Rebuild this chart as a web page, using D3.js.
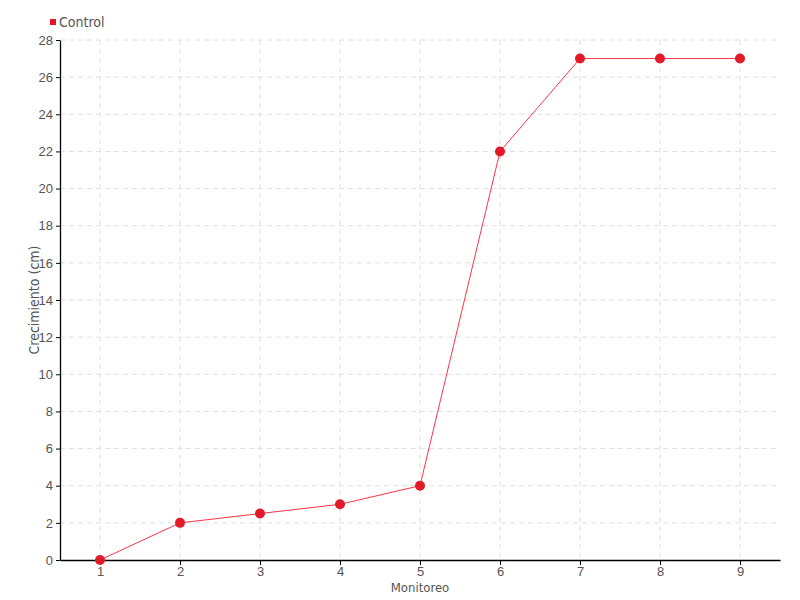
<!DOCTYPE html>
<html>
<head>
    <meta charset="utf-8">
    <title>Crecimiento - Control</title>
    <script src="https://d3js.org/d3.v7.min.js"></script>
    <style>
        body { margin: 0; background: #fff; font-family: 'DejaVu Sans Condensed', 'Liberation Sans Narrow', sans-serif; }
        .tick text { fill: #555; font-size: 13px; }
        .grid line { stroke: #e0e0e0; stroke-dasharray: 5,4; }
    </style>
</head>
<body>
<div id="chart"></div>
<script>
    // data
    const monitoreo = [1, 2, 3, 4, 5, 6, 7, 8, 9]
    const control = [0, 2, 2.5, 3, 4, 22, 27, 27, 27]
    const yTicks = [0, 2, 4, 6, 8, 10, 12, 14, 16, 18, 20, 22, 24, 26, 28]

    const width = 800, height = 600
    const margin = { top: 40, right: 20, bottom: 40, left: 60 }

    const svg = d3.select("#chart").append("svg")
        .attr("width", width)
        .attr("height", height)

    const x = d3.scaleLinear()
        .domain([0.5, 9.5])
        .range([margin.left, width - margin.right])

    const y = d3.scaleLinear()
        .domain([0, 28])
        .range([height - margin.bottom, margin.top])

    // grid
    svg.append("g").attr("class", "grid")
        .selectAll("line.h")
        .data(yTicks.slice(1))
        .enter().append("line")
        .attr("x1", margin.left).attr("x2", width - margin.right)
        .attr("y1", d => y(d)).attr("y2", d => y(d))

    svg.append("g").attr("class", "grid")
        .selectAll("line.v")
        .data(monitoreo)
        .enter().append("line")
        .attr("x1", d => x(d)).attr("x2", d => x(d))
        .attr("y1", margin.top).attr("y2", height - margin.bottom)

    // axes
    svg.append("g")
        .attr("transform", `translate(0,${height - margin.bottom})`)
        .call(d3.axisBottom(x).tickValues(monitoreo).tickSize(5).tickSizeOuter(0).tickPadding(2))
    svg.append("g")
        .attr("transform", `translate(${margin.left},0)`)
        .call(d3.axisLeft(y).tickValues(yTicks).tickSize(4).tickSizeOuter(0).tickPadding(3))

    svg.selectAll(".domain").attr("stroke", "#000").attr("stroke-width", 1.3)
    svg.selectAll(".tick line").attr("stroke", "#000")

    svg.append("text")
        .attr("x", x(5))
        .attr("y", 592)
        .attr("text-anchor", "middle")
        .attr("fill", "#555")
        .attr("font-size", 13)
        .text("Monitoreo")

    svg.append("text")
        .attr("transform", `translate(39,${y(14)}) rotate(-90)`)
        .attr("text-anchor", "middle")
        .attr("fill", "#555")
        .attr("font-size", 14)
        .text("Crecimiento (cm)")

    // line + points
    const pts = monitoreo.map((m, i) => [m, control[i]])
    svg.append("path")
        .datum(pts)
        .attr("fill", "none")
        .attr("stroke", "#ff3346")
        .attr("stroke-width", 1)
        .attr("d", d3.line().x(d => x(d[0])).y(d => y(d[1])))

    svg.selectAll("circle")
        .data(pts)
        .enter().append("circle")
        .attr("cx", d => x(d[0]))
        .attr("cy", d => y(d[1]))
        .attr("r", 5)
        .attr("fill", "#e31a2a")

    // legend
    const legend = svg.append("g").attr("transform", "translate(50,19)")
    legend.append("rect").attr("width", 6).attr("height", 6).attr("fill", "#e8132b")
    legend.append("text")
        .attr("x", 9).attr("y", 8)
        .attr("fill", "#555")
        .attr("font-size", 14)
        .text("Control")
</script>
</body>
</html>
